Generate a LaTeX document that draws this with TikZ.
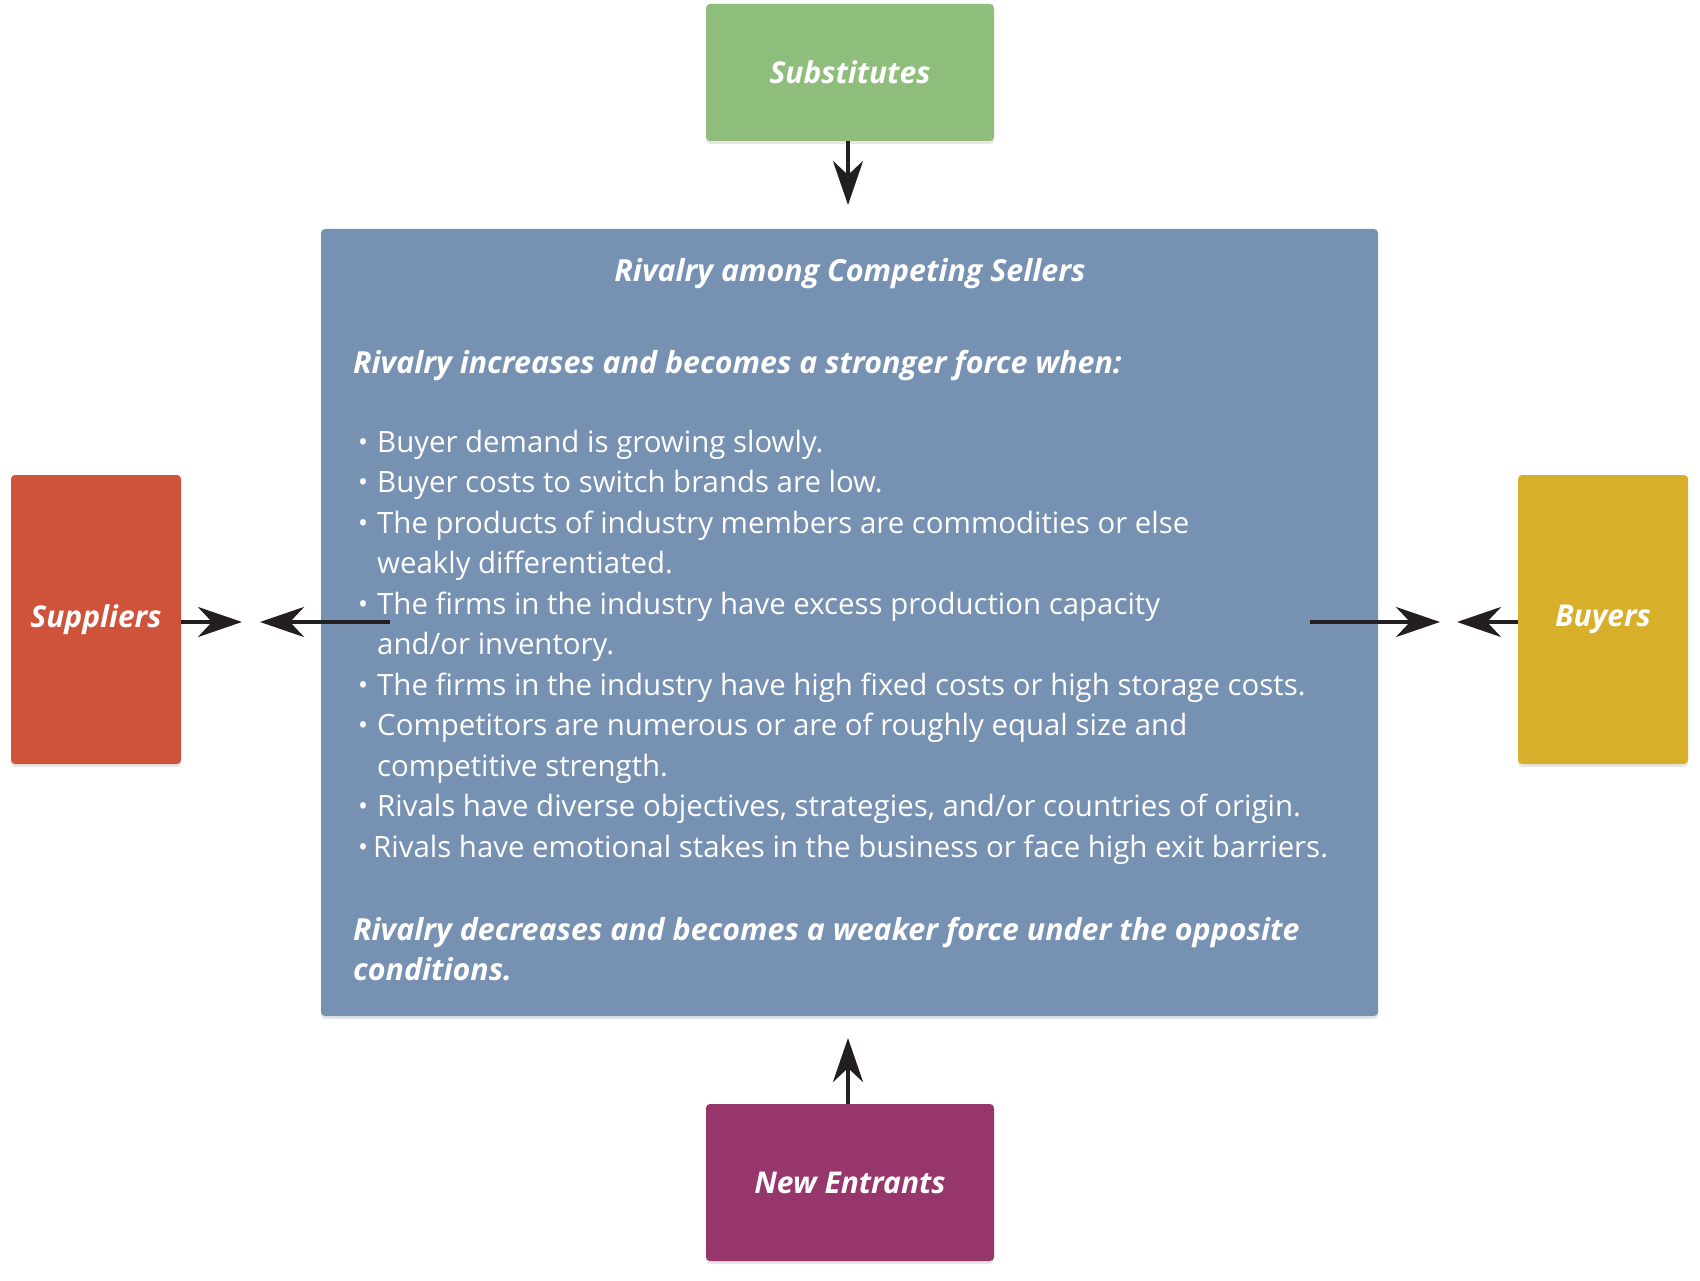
\documentclass[tikz,border=0pt]{standalone}
\usepackage{fontspec}
\setmainfont{Open Sans}
\usetikzlibrary{arrows.meta,shadows}

\definecolor{subsgreen}{HTML}{8FBE7C}
\definecolor{rivalblue}{HTML}{7691B2}
\definecolor{supplred}{HTML}{CF533A}
\definecolor{buyyellow}{HTML}{D8AF2B}
\definecolor{entrpurple}{HTML}{96366A}
\definecolor{arrowblack}{HTML}{231F20}

\tikzset{
  force/.style={rounded corners=4pt, text=white, font=\fontsize{30}{34}\selectfont\bfseries\itshape,
    drop shadow={shadow xshift=0pt, shadow yshift=-3pt, opacity=0.2}},
  pull/.style={arrowblack, line width=4.5pt, -{Stealth[length=44pt, width=30pt, inset=14pt]}},
  bodyline/.style={anchor=base west, text=white, inner sep=0pt, font=\fontsize{29.4}{34}\selectfont},
  headline/.style={bodyline, font=\fontsize{30.4}{34}\selectfont\bfseries\itshape}
}
\newcommand{\bul}{\makebox[19pt][l]{\raisebox{1pt}{\scalebox{0.9}{\textbullet}}}}
\newcommand{\ind}{\hspace*{19pt}}

\begin{document}
\begin{tikzpicture}[x=1pt, y=-1pt]
  \useasboundingbox (0,0) rectangle (1700,1281);

  % the five forces
  \fill[force, fill=rivalblue] (321,229) rectangle (1378,1016);
  \node[force, fill=subsgreen, minimum width=288pt, minimum height=137pt] (subs) at (850,72.5) {Substitutes};
  \node[force, fill=supplred, minimum width=170pt, minimum height=289pt] (suppl) at (96,619.5) {Suppliers};
  \node[force, fill=buyyellow, minimum width=170pt, minimum height=289pt] (buy) at (1603,619.5) {Buyers};
  \node[force, fill=entrpurple, minimum width=288pt, minimum height=157pt] (entr) at (850,1182.5) {New Entrants};

  % text of the rivalry box
  \node[headline, anchor=base] (title) at (850,282) {Rivalry among Competing Sellers};
  \node[headline] (incr) at (353,373) {Rivalry increases and becomes a stronger force when:};
  \node[bodyline] (l1) at (358,452) {\bul Buyer demand is growing slowly.};
  \node[bodyline] (l2) at (358,492.5) {\bul Buyer costs to switch brands are low.};
  \node[bodyline] (l3) at (358,533) {\bul The products of industry members are commodities or else};
  \node[bodyline] (l4) at (358,573.5) {\ind weakly differentiated.};
  \node[bodyline] (l5) at (358,614) {\bul The firms in the industry have excess production capacity};
  \node[bodyline] (l6) at (358,654.5) {\ind and/or inventory.};
  \node[bodyline] (l7) at (358,695) {\bul The firms in the industry have high fixed costs or high storage costs.};
  \node[bodyline] (l8) at (358,735.5) {\bul Competitors are numerous or are of roughly equal size and};
  \node[bodyline] (l9) at (358,776) {\ind competitive strength.};
  \node[bodyline] (l10) at (358,816.5) {\bul Rivals have diverse objectives, strategies, and/or countries of origin.};
  \node[bodyline] (l11) at (358,857) {\makebox[15pt][l]{\raisebox{1pt}{\scalebox{0.9}{\textbullet}}}Rivals have emotional stakes in the business or face high exit barriers.};
  \node[headline] (decr) at (353,940) {Rivalry decreases and becomes a weaker force under the opposite};
  \node[headline] (decr2) at (353,980) {conditions.};

  % arrow ends
  \coordinate (subs tip) at (848,205);
  \coordinate (entr tip) at (848,1038);
  \coordinate (suppl tip) at (242,622);
  \coordinate (left from) at (390,622);
  \coordinate (left tip) at (260,622);
  \coordinate (right from) at (1310,622);
  \coordinate (right tip) at (1440,622);
  \coordinate (buy tip) at (1457,622);

  \draw[pull] (subs.south -| subs tip) -- (subs tip);
  \draw[pull] (entr.north -| entr tip) -- (entr tip);
  \draw[pull] (suppl.east |- suppl tip) -- (suppl tip);
  \draw[pull] (left from) -- (left tip);
  \draw[pull] (right from) -- (right tip);
  \draw[pull] (buy.west |- buy tip) -- (buy tip);
\end{tikzpicture}
\end{document}
